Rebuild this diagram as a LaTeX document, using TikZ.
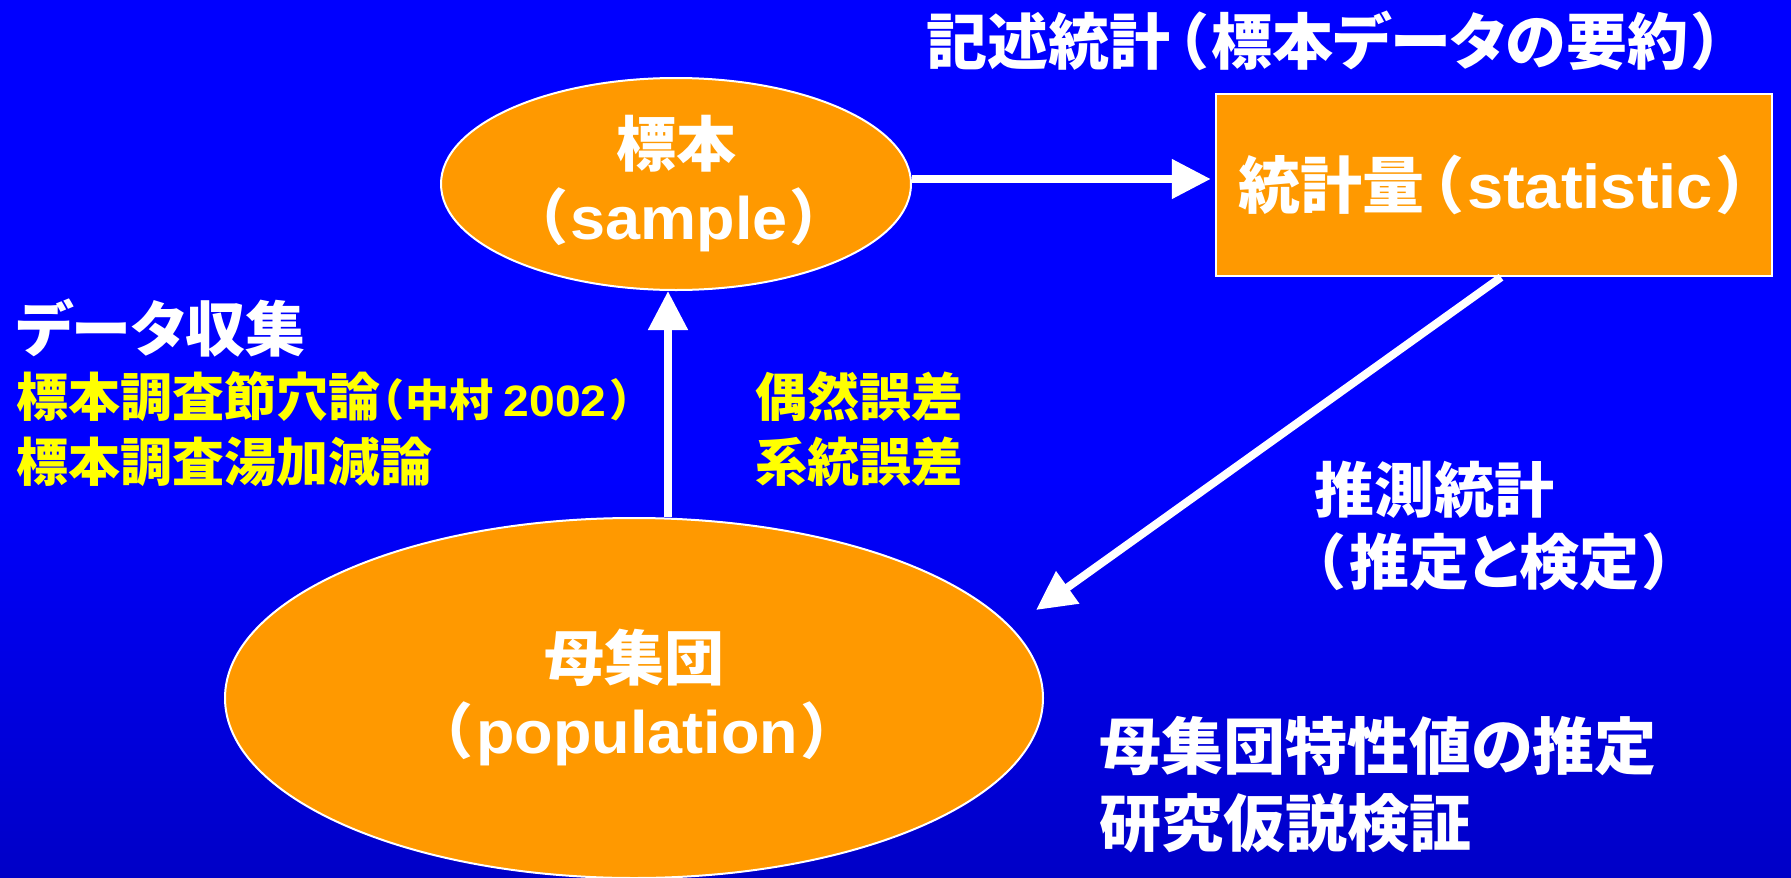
\documentclass[tikz,border=0pt]{standalone}
\usepackage{fontspec}
\usetikzlibrary{shapes.geometric,arrows.meta}
\newfontfamily\jp{Noto Sans CJK JP}[RawFeature=+palt]
\newfontfamily\la{Liberation Sans}[FakeStretch=1.05]
\definecolor{orng}{RGB}{255,153,0}
\definecolor{navyb}{RGB}{0,0,138}
\definecolor{txtyel}{RGB}{255,255,0}
\pgfdeclareverticalshading{bgshade}{100bp}{color(0bp)=(navyb); color(48bp)=(blue); color(100bp)=(blue)}
\newcommand{\mylp}{\hspace{0.1em}（\hspace{0.08em}}
\newcommand{\myrp}{\hspace{0.08em}）\hspace{0.1em}}
\begin{document}
\begin{tikzpicture}[x=1pt,y=-1pt,
  wtxt/.style={inner sep=0pt, anchor=west, text=white, font=\jp\bfseries\fontsize{60}{73}\selectfont},
  ytxt/.style={inner sep=0pt, anchor=west, text=txtyel, font=\jp\bfseries\fontsize{52}{62}\selectfont},
  ell/.style={ellipse, draw=white, line width=2pt, fill=orng, inner sep=0pt, align=center, text=white, font=\jp\bfseries\fontsize{60}{73}\selectfont},
  sbox/.style={rectangle, draw=white, line width=2.5pt, fill=orng, inner sep=0pt, text=white, font=\jp\bfseries\fontsize{62}{73}\selectfont},
  arr/.style={draw=white, line width=8pt, -{Triangle[length=39pt,width=38pt]}}
]
\useasboundingbox (0,0) rectangle (1791,878);
\shade[shading=bgshade] (0,0) rectangle (1791,878);

\node[ell, minimum width=470pt, minimum height=212pt] (sample) at (676,184) {標本\\\mylp{\la sample}\myrp};
\node[ell, minimum width=818pt, minimum height=360pt] (pop) at (634,698) {母集団\\\mylp{\la population}\myrp};
\node[sbox, minimum width=556pt, minimum height=182pt] (stat) at (1494,185) {統計量\mylp{\la statistic}\myrp};

\node[wtxt, font=\jp\bfseries\fontsize{61}{73}\selectfont] (title) at (926,41) {記述統計\mylp 標本データの要約\myrp};
\node[wtxt] (collect) at (16,328) {データ収集};
\node[ytxt] (yl1) at (16,397) {標本調査節穴論{\fontsize{44}{50}\selectfont（\hspace{0.08em}中村 {\la 2002}\hspace{0.12em}）}};
\node[ytxt] (yl2) at (16,462) {標本調査湯加減論};
\node[ytxt] (err1) at (755,397) {偶然誤差};
\node[ytxt] (err2) at (755,462) {系統誤差};
\node[wtxt] (inf1) at (1314,490) {推測統計};
\node[wtxt] (inf2) at (1308,562) {\mylp 推定と検定\myrp};
\node[wtxt, font=\jp\bfseries\fontsize{62}{73}\selectfont] (goal1) at (1099,746) {母集団特性値の推定};
\node[wtxt, font=\jp\bfseries\fontsize{62}{73}\selectfont] (goal2) at (1099,823) {研究仮説検証};

\coordinate (hs) at ([yshift=5pt]sample.east);
\coordinate (vtop) at ([xshift=-8pt]sample.south);
\coordinate (vbot) at (vtop |- pop.north);
\coordinate (dstart) at ([xshift=7pt]stat.south);
\coordinate (dtip) at (1036,610);

\draw[arr, shorten >=4pt] (hs) -- (hs -| stat.west);
\draw[arr] (vbot) -- (vtop);
\draw[arr] (dstart) -- (dtip);
\end{tikzpicture}
\end{document}
